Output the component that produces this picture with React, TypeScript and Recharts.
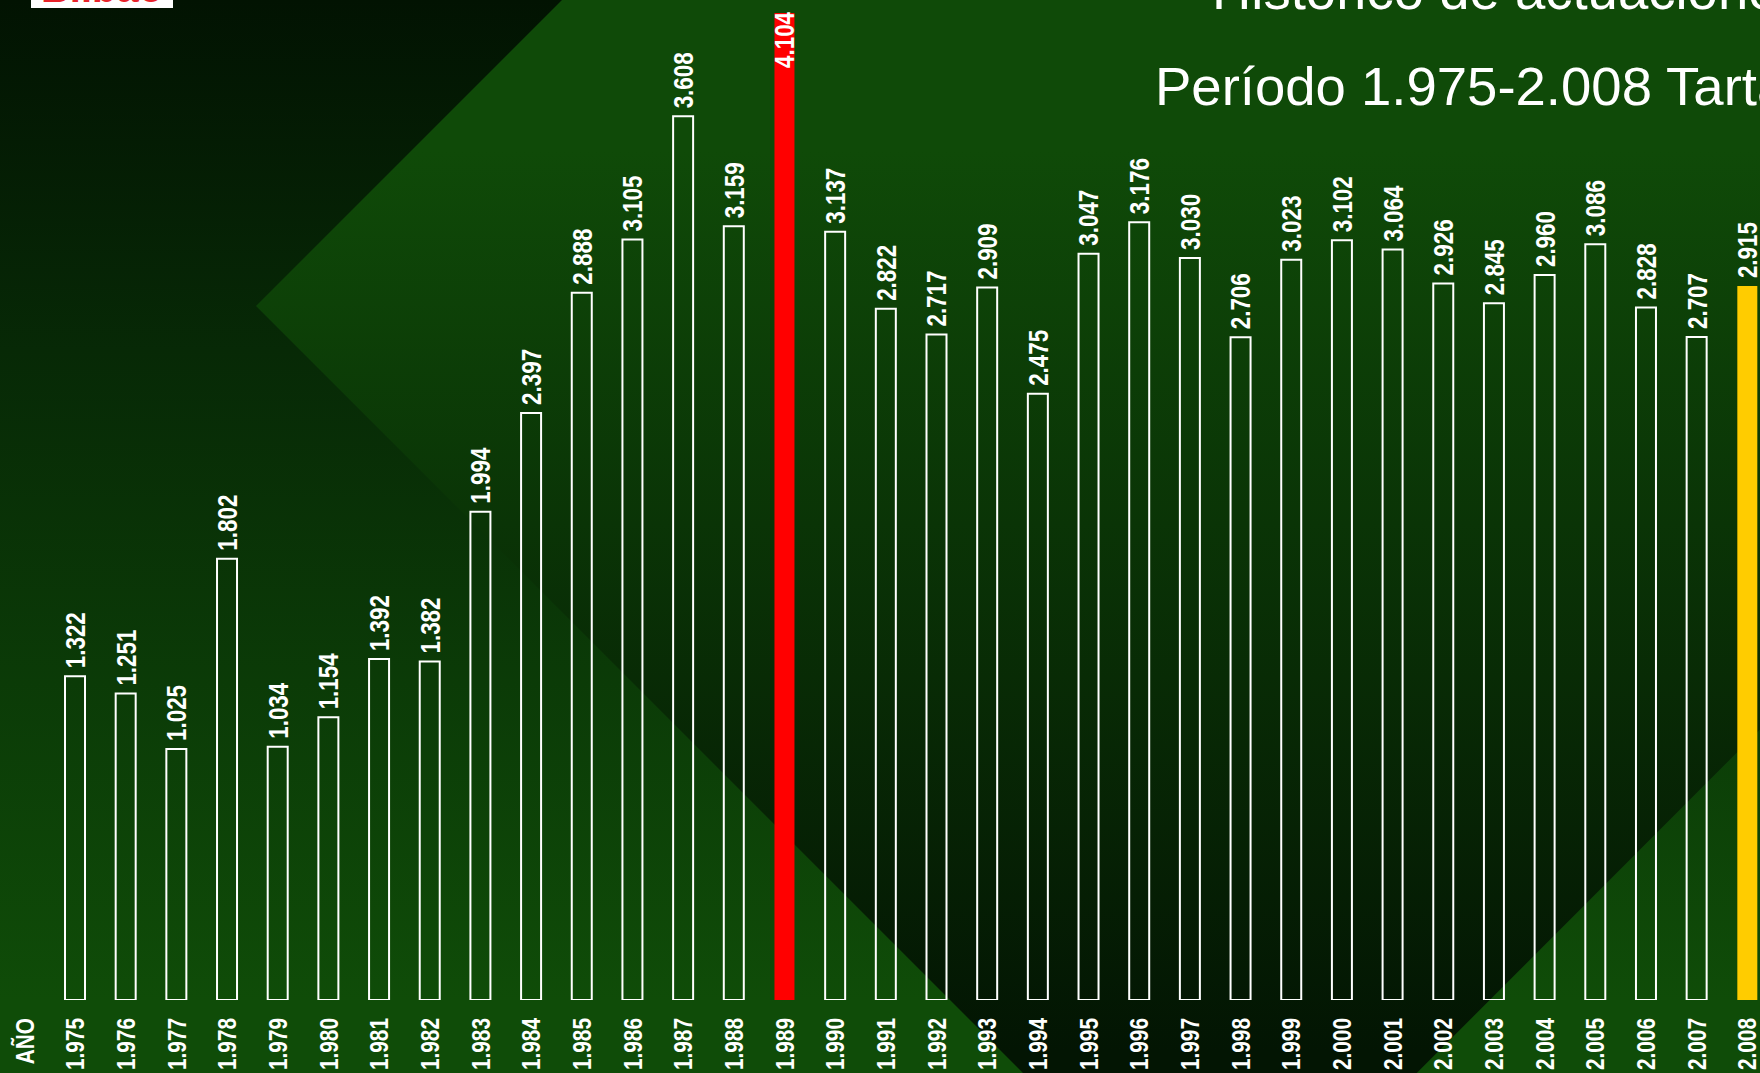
import { BarChart, Bar, XAxis, YAxis, Cell, LabelList } from "recharts";

// años y actuaciones por año
const years = [
  "1.975", "1.976", "1.977", "1.978", "1.979", "1.980", "1.981", "1.982", "1.983", "1.984",
  "1.985", "1.986", "1.987", "1.988", "1.989", "1.990", "1.991", "1.992", "1.993", "1.994",
  "1.995", "1.996", "1.997", "1.998", "1.999", "2.000", "2.001", "2.002", "2.003", "2.004",
  "2.005", "2.006", "2.007", "2.008",
];
const actuaciones = [
  1322, 1251, 1025, 1802, 1034, 1154, 1392, 1382, 1994, 2397,
  2888, 3105, 3608, 3159, 4104, 3137, 2822, 2717, 2909, 2475,
  3047, 3176, 3030, 2706, 3023, 3102, 3064, 2926, 2845, 2960,
  3086, 2828, 2707, 2915,
];
const maxYear = "1.989";
const currentYear = "2.008";

const data = years.map((y, i) => ({ year: y, value: actuaciones[i] }));

const SANS = '"Liberation Sans", Arial, sans-serif';
// letra estrecha: Liberation Sans Bold comprimida en horizontal
const NARROW_SCALE = 0.8;

const fmt = (v: number) => `${Math.floor(v / 1000)}.${String(v % 1000).padStart(3, "0")}`;

const VText = ({ x, y, size, anchor, children }: any) => (
  <text
    x={0}
    y={0}
    transform={`translate(${x}, ${y}) rotate(-90) scale(${NARROW_SCALE}, 1)`}
    fill="#fff"
    fontFamily={SANS}
    fontWeight="bold"
    fontSize={size}
    textAnchor={anchor}
    dominantBaseline="central"
  >
    {children}
  </text>
);

const ValueLabel = (props: any) => {
  const { x, y, width, value } = props;
  const cx = x + width / 2;
  const ty = Math.max(y - 8, 68);
  return (
    <VText x={cx} y={ty} size={28} anchor="start">
      {fmt(value)}
    </VText>
  );
};

const YearTick = (props: any) => {
  const { x, y, payload } = props;
  return (
    <VText x={x} y={y + 10} size={26} anchor="end">
      {payload.value}
    </VText>
  );
};

function Background() {
  return (
    <svg width={1760} height={1073} style={{ position: "absolute", left: 0, top: 0 }}>
      <defs>
        <linearGradient id="bg" x1="0" y1="0" x2="0" y2="1000" gradientUnits="userSpaceOnUse">
          <stop offset="0" stopColor="#021302" />
          <stop offset="0.35" stopColor="#072906" />
          <stop offset="1" stopColor="#0f4c08" />
        </linearGradient>
        <linearGradient id="dia" x1="0" y1="150" x2="0" y2="1050" gradientUnits="userSpaceOnUse">
          <stop offset="0" stopColor="#0f4a08" />
          <stop offset="1" stopColor="#031503" />
        </linearGradient>
      </defs>
      <rect x={0} y={0} width={1760} height={1073} fill="url(#bg)" />
      <polygon points="1220,-658 2183,306 1220,1270 256,306" fill="url(#dia)" />
    </svg>
  );
}

export default function App() {
  return (
    <div
      style={{
        position: "absolute",
        left: 0,
        top: 0,
        width: 1760,
        height: 1073,
        overflow: "hidden",
        fontFamily: SANS,
      }}
    >
      <Background />
      <svg width={1760} height={1073} style={{ position: "absolute", left: 0, top: 0 }}>
        <rect x={31} y={-30} width={142} height={38} fill="#fff" />
        <text x={102} y={2} fill="#e8232a" fontSize={40} fontWeight="bold" textAnchor="middle" fontFamily={SANS}>
          Bilbao
        </text>
        <text x={1212} y={9} fill="#fff" fontSize={54.5} fontFamily={SANS}>
          Histórico de actuaciones
        </text>
        <text x={1155} y={105} fill="#fff" fontSize={54.5} fontFamily={SANS}>
          Período 1.975-2.008 Tartanga
        </text>
        <VText x={25} y={1018} size={26} anchor="end">
          AÑO
        </VText>
      </svg>
      <div style={{ position: "absolute", left: 0, top: 0 }}>
        <BarChart
          width={1800}
          height={1073}
          data={data}
          margin={{ top: 13, right: 27, bottom: 0, left: 50 }}
          barCategoryGap={0}
        >
          <XAxis
            dataKey="year"
            interval={0}
            height={73}
            axisLine={false}
            tickLine={false}
            tickSize={0}
            tickMargin={8}
            tick={<YearTick />}
          />
          <YAxis hide domain={[0, 4030]} allowDataOverflow />
          <Bar dataKey="value" barSize={20} isAnimationActive={false}>
            {data.map((d) => {
              const fill = d.year === maxYear ? "#ff0000" : d.year === currentYear ? "#ffcc00" : "none";
              const stroke = fill === "none" ? "#ffffff" : "none";
              return <Cell key={d.year} fill={fill} stroke={stroke} strokeWidth={2} />;
            })}
            <LabelList dataKey="value" content={<ValueLabel />} />
          </Bar>
        </BarChart>
      </div>
    </div>
  );
}
